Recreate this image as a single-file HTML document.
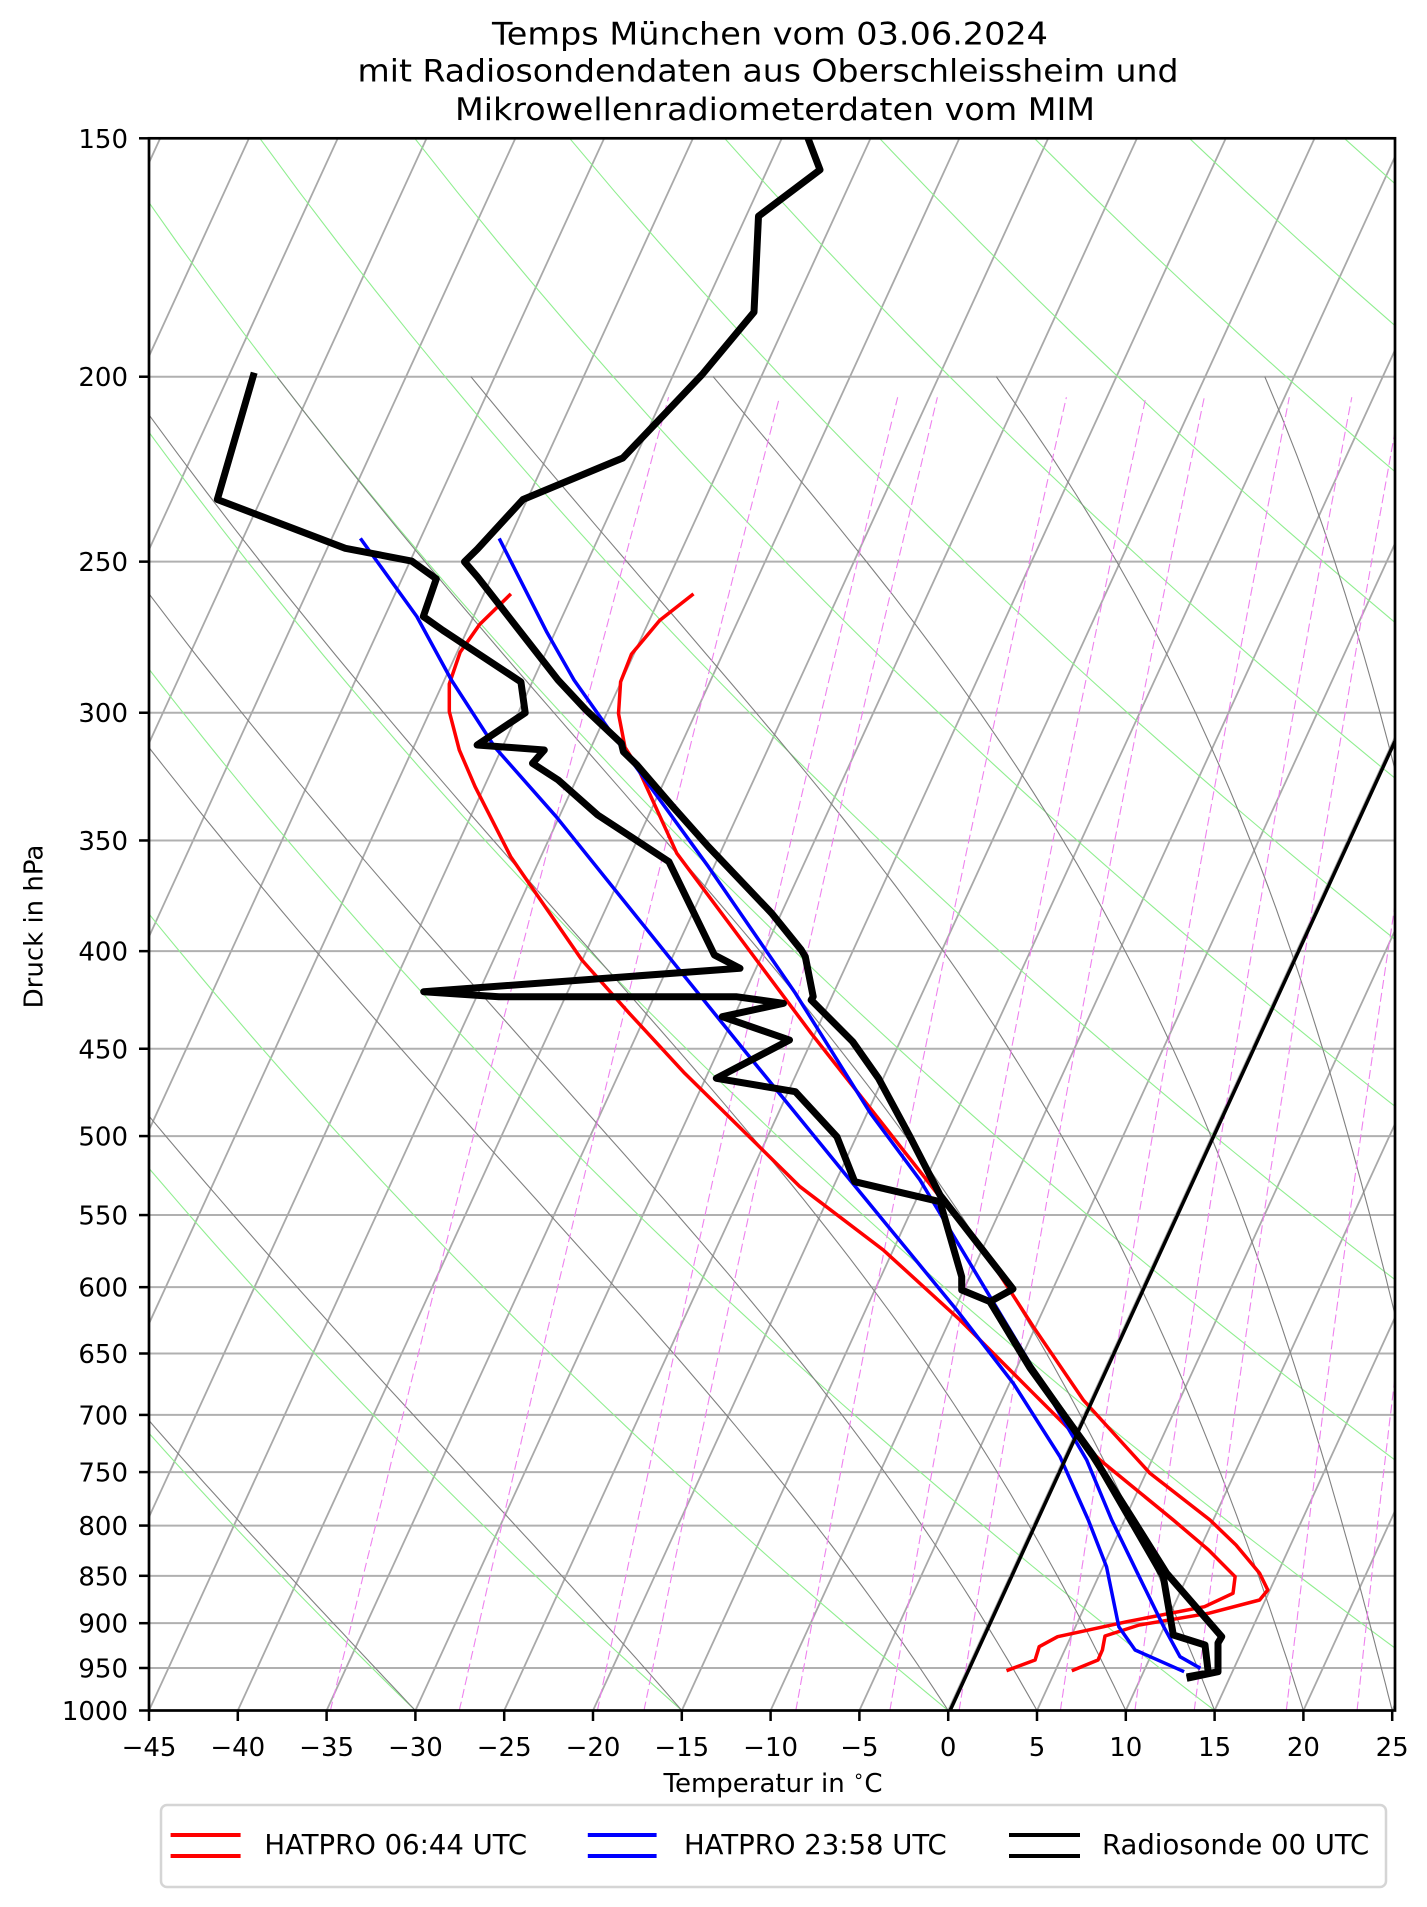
<!DOCTYPE html>
<html><head><meta charset="utf-8">
<style>
html,body{margin:0;padding:0;background:#fff;}
svg{display:block;font-family:"DejaVu Sans","Liberation Sans",sans-serif;}
</style></head>
<body>
<svg id="s" width="1427" height="1907" viewBox="0 0 1427 1907" xmlns="http://www.w3.org/2000/svg">
<defs><clipPath id="c"><rect x="149" y="138.3" width="1246" height="1572.2"/></clipPath></defs>
<rect width="1427" height="1907" fill="#fff"/>
<g id="bg" clip-path="url(#c)"></g>
<g id="data" clip-path="url(#c)" fill="none" stroke-linejoin="round" stroke-linecap="butt">
<polyline stroke="#ff0000" stroke-width="3.5" points="693.5,593.9 659.7,620.4 631.5,654.1 620.6,681.9 618.5,713.6 625,747.3 637.3,766.7 676.8,853.3 811.2,1033.3 926.7,1180 996.7,1270 1033.3,1326.7 1083.3,1400 1150,1473.3 1210,1520 1236,1545 1259.6,1573.3 1267.8,1590 1259.6,1600 1208.6,1613.3 1139.2,1625 1105,1636 1102.4,1650 1098,1660 1071.8,1670.7"/>
<polyline stroke="#ff0000" stroke-width="3.5" points="510.9,593.9 479.7,624.4 460.2,652.1 449.3,683.9 449.3,711.6 459.3,750 475.1,786.7 510.7,856.7 581.9,960 629.3,1013.3 684.7,1073.3 755.9,1143.3 800,1186.7 883.3,1250 960,1320 1033.3,1393.3 1100,1460 1173.3,1520 1208.6,1550 1235.1,1576.7 1233,1593.3 1204.5,1606.7 1126.9,1621.7 1057.6,1636.7 1039.2,1646.7 1035.1,1660 1006.5,1670.7"/>
<polyline stroke="#0000ff" stroke-width="3.5" points="360.4,538.4 416.8,616.5 451.4,680 494.9,747.3 556.2,816.7 676.8,966.7 744,1050 850,1180 956.7,1310 1013.3,1383.3 1060,1456.7 1088.3,1520 1106.5,1566.7 1118.8,1626.7 1135.1,1650 1184.1,1671.7"/>
<polyline stroke="#0000ff" stroke-width="3.5" points="499.2,538.4 546.9,632.3 574,680 607.6,727.5 633.3,763.3 708.4,866.7 795.4,993.3 870.5,1113.3 920,1180 990,1296.7 1040,1380 1086.7,1460 1111.7,1520 1139.2,1576.7 1163.7,1626.7 1180,1656.7 1200.4,1668.3"/>
<polyline stroke="#000" stroke-width="7" points="808,138.3 820,169.8 758.5,216.2 754,312.1 702,374.7 622.8,458 523,499.5 477.5,549 464.5,561.8 477.5,576.9 558,680 586,710 621.4,743.3 623.4,751.7 637,765 672.8,806.7 708.4,846.7 771.7,913.3 801.3,950 805.3,956.7 813.2,996.7 811.2,1000 852.7,1041.7 878.5,1078.3 910,1136.7 940,1195 1013,1289 990,1301.7 1030,1366.7 1093.3,1456.7 1133.3,1520 1166.7,1573.3 1221.7,1636.7 1218,1643 1218,1671.7 1186.7,1678.3"/>
<polyline stroke="#000" stroke-width="7" points="254.2,372.7 217.3,499.5 345.3,548.3 411.6,561 436.3,578.8 423.3,616.5 442.8,630.3 520.9,681.9 525.2,712.8 477.1,745 544.3,750 532.5,763.3 558.2,780 597.7,815 668.9,861.7 714.4,955 740,968.3 423.7,991.7 498.9,996.7 736.1,996.7 783.5,1003.3 722.3,1016.7 789.5,1040 716.3,1078.3 795.4,1091.7 836.9,1136.7 854.7,1181.7 940,1201.7 961.7,1276.7 961.7,1290 990,1301.7 1030,1368 1093,1455 1163.3,1576.7 1173.3,1635 1205,1645 1208.3,1673 1186.7,1677"/>
<line x1="950.1" y1="1710.5" x2="1395" y2="741.2" stroke="#000" stroke-width="3.5"/>
</g>
<rect x="149" y="138.3" width="1246" height="1572.2" fill="none" stroke="#000" stroke-width="2.7"/>
<g id="ax" font-size="26" fill="#000"></g>
<g font-size="31" text-anchor="middle">
<text x="770" y="44.3" textLength="556" lengthAdjust="spacingAndGlyphs">Temps München vom 03.06.2024</text>
<text x="768" y="81.7" textLength="821" lengthAdjust="spacingAndGlyphs">mit Radiosondendaten aus Oberschleissheim und</text>
<text x="775" y="120" textLength="640" lengthAdjust="spacingAndGlyphs">Mikrowellenradiometerdaten vom MIM</text>
</g>
<text x="773" y="1792" font-size="26" text-anchor="middle">Temperatur in <tspan baseline-shift="super" font-size="18">∘</tspan>C</text>
<text transform="translate(42.7,926.5) rotate(-90)" font-size="26" text-anchor="middle">Druck in hPa</text>
<rect x="161" y="1805" width="1225" height="82" rx="6" fill="#fff" stroke="#d5d5d5" stroke-width="2.5"/>
<g stroke-width="4">
<line x1="170.6" y1="1835" x2="240.6" y2="1835" stroke="#f00"/><line x1="170.6" y1="1856" x2="240.6" y2="1856" stroke="#f00"/>
<line x1="587.8" y1="1835" x2="656.6" y2="1835" stroke="#00f"/><line x1="587.8" y1="1856" x2="656.6" y2="1856" stroke="#00f"/>
<line x1="1009" y1="1835" x2="1080" y2="1835" stroke="#000"/><line x1="1009" y1="1856" x2="1080" y2="1856" stroke="#000"/>
</g>
<g font-size="27.5">
<text x="264.4" y="1854">HATPRO 06:44 UTC</text>
<text x="684" y="1854">HATPRO 23:58 UTC</text>
<text x="1102" y="1854">Radiosonde 00 UTC</text>
</g>
</svg>
<script>
(function(){
var NS="http://www.w3.org/2000/svg";
var Y0=138.3,Y1=1710.5,X0=149,PX=17.76,SK=0.459;
function yP(p){return Y0+Math.log(p/150)/Math.log(1000/150)*(Y1-Y0);}
function xT(T,y){return X0+(T+45)*PX+(Y1-y)*SK;}
var bg=document.getElementById('bg'),ax=document.getElementById('ax');
function el(tag,attrs,parent,txt){var e=document.createElementNS(NS,tag);for(var k in attrs)e.setAttribute(k,attrs[k]);if(txt!==undefined)e.textContent=txt;parent.appendChild(e);return e;}
function poly(pts,attrs){attrs.points=pts.map(function(a){return a[0].toFixed(1)+','+a[1].toFixed(1);}).join(' ');attrs.fill='none';el('polyline',attrs,bg);}
var ticks=[150,200,250,300,350,400,450,500,550,600,650,700,750,800,850,900,950,1000];
ticks.forEach(function(p){var y=yP(p);el('line',{x1:149,x2:1395,y1:y,y2:y,stroke:'#b0b0b0','stroke-width':2},bg);});
for(var T=-170;T<=25;T+=5){poly([[xT(T,Y1),Y1],[xT(T,Y0),Y0]],{stroke:'#a9a9a9','stroke-width':1.8});}
for(var t0=-45;t0<=330;t0+=15){var pts=[];for(var p=1000;p>=149;p-=10){var Tk=(t0+273.15)*Math.pow(p/1000,0.2857);var y=yP(p);pts.push([xT(Tk-273.15,y),y]);}poly(pts,{stroke:'#90ee90','stroke-width':1.1});}
function es(Tc){return 6.112*Math.exp(17.67*Tc/(Tc+243.5));}
function dTdp(p,Tk){var e=es(Tk-273.15);var rs=0.622*e/(p-e);var Rd=287.04,Cp=1005.7,Lv=2.501e6;return (Rd*Tk+Lv*rs)/(Cp+Lv*Lv*rs*0.622/(Rd*Tk*Tk))/p;}
[-30,-15,0,5,10,15,20,25,30,35,40].forEach(function(t0){var Tk=t0+273.15,p=1000,h=-2,pts=[[xT(t0,Y1),Y1]];while(p>200){var k1=dTdp(p,Tk),k2=dTdp(p+h/2,Tk+h/2*k1),k3=dTdp(p+h/2,Tk+h/2*k2),k4=dTdp(p+h,Tk+h*k3);Tk+=h/6*(k1+2*k2+2*k3+k4);p+=h;if(Math.round(p)%10==0){var y=yP(p);pts.push([xT(Tk-273.15,y),y]);}}poly(pts,{stroke:'#808080','stroke-width':1.1});});
[0.0002,0.0004,0.0008,0.001,0.002,0.003,0.004,0.006,0.008,0.01,0.014,0.018].forEach(function(w){var pts=[];for(var p=1000;p>=205;p-=5){var e=w*p/(0.622+w);var l=Math.log(e/6.112);var Td=243.5*l/(17.67-l);var y=yP(p);pts.push([xT(Td,y),y]);}poly(pts,{stroke:'#ee82ee','stroke-width':1.1,'stroke-dasharray':'9,4'});});
ticks.forEach(function(p){var y=yP(p);el('line',{x1:139,x2:149,y1:y,y2:y,stroke:'#000','stroke-width':2.5},ax);el('text',{x:128,y:y+9.5,'text-anchor':'end'},ax,String(p));});
for(var t=-45;t<=25;t+=5){var x=X0+(t+45)*PX;el('line',{x1:x,x2:x,y1:1710.5,y2:1721,stroke:'#000','stroke-width':2.5},ax);el('text',{x:x,y:1756,'text-anchor':'middle'},ax,(t<0?'\u2212'+(-t):String(t)));}
})();
</script>
</body></html>
